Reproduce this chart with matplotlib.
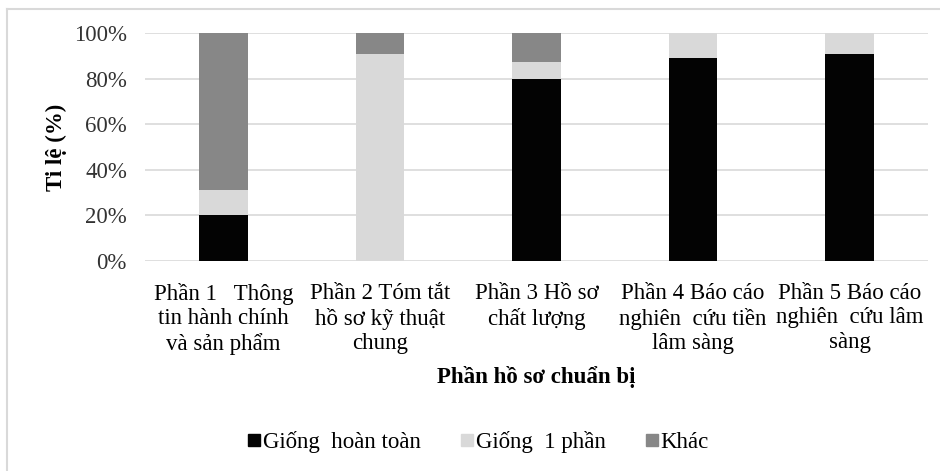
import matplotlib
matplotlib.use("Agg")
import matplotlib.pyplot as plt
from matplotlib.lines import Line2D
import numpy as np

plt.rcParams['font.family'] = ['Liberation Serif', 'DejaVu Serif']

categories = [
    "Phần 1   Thông\ntin hành chính\nvà sản phẩm",
    "Phần 2 Tóm tắt\nhồ sơ kỹ thuật\nchung",
    "Phần 3 Hồ sơ\nchất lượng",
    "Phần 4 Báo cáo\nnghiên  cứu tiền\nlâm sàng",
    "Phần 5 Báo cáo\nnghiên  cứu lâm\nsàng",
]
series_names = ["Giống  hoàn toàn", "Giống  1 phần", "Khác"]
giong_hoan_toan = [20, 0, 80, 89, 91]
giong_1_phan = [11, 91, 7.5, 11, 9]
khac = [69, 9, 12.5, 0, 0]
colors = ["#030303", "#d9d9d9", "#878787"]
yticks = [0, 20, 40, 60, 80, 100]
ytick_labels = ["0%", "20%", "40%", "60%", "80%", "100%"]

W, H = 940, 471
FS = 16.5
fig = plt.figure(figsize=(W / 100, H / 100), dpi=100)
ax = fig.add_axes([145 / W, (H - 261) / H, (928 - 145) / W, (261 - 33) / H])

x = np.arange(len(categories))
bw = 0.31
bottom = np.zeros(len(categories))
handles = []
for vals, c, name in zip([giong_hoan_toan, giong_1_phan, khac], colors, series_names):
    vals = np.array(vals, dtype=float)
    ax.bar(x, vals, bw, bottom=bottom, color=c, zorder=3, label=name)
    bottom += vals
    handles.append(Line2D([], [], marker='s', linestyle='none', markersize=8,
                          markerfacecolor=c, markeredgecolor=c))

ax.set_xlim(-0.5, len(categories) - 0.5)
ax.set_ylim(0, 100)
ax.set_yticks(yticks)
ax.set_yticklabels(ytick_labels, fontsize=FS, color="#333333")
ax.set_xticks(x)
ax.set_xticklabels(categories, fontsize=FS, color="#000000", linespacing=1.2)
ax.tick_params(axis='both', length=0)
ax.tick_params(axis='y', pad=13)
ax.tick_params(axis='x', pad=16)
ax.yaxis.grid(True, color="#d9d9d9", linewidth=1.2, zorder=0)
ax.set_axisbelow(True)
for s in ax.spines.values():
    s.set_visible(False)

ax.set_ylabel("Ti lệ (%)", fontsize=FS, fontweight='bold', labelpad=5)
ax.set_xlabel("Phần hồ sơ chuẩn bị", fontsize=FS, fontweight='bold', labelpad=8)

fig.legend(handles, series_names, loc='center', bbox_to_anchor=(478 / W, 1 - 442 / H),
           ncol=3, frameon=False, fontsize=FS, handletextpad=0.1, columnspacing=1.7,
           handlelength=0.6)

# outer chart border (left and top visible)
fig.add_artist(Line2D([7.5 / W, 7.5 / W], [0, 1 - 9 / H], transform=fig.transFigure,
                      color="#d9d9d9", linewidth=1.5))
fig.add_artist(Line2D([7.5 / W, 1], [1 - 9 / H, 1 - 9 / H], transform=fig.transFigure,
                      color="#d9d9d9", linewidth=1.5))

fig.savefig("out.png", dpi=100, facecolor="white")
